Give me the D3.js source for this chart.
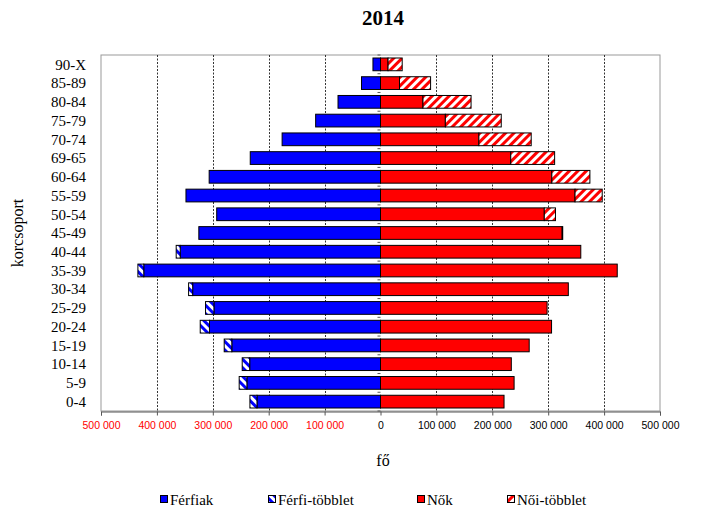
<!DOCTYPE html>
<html>
<head>
<meta charset="utf-8">
<script src="https://cdn.jsdelivr.net/npm/d3@7"></script>
<style>
  html, body { margin: 0; padding: 0; background: #fff; }
  svg { display: block; }
</style>
</head>
<body>
<svg id="chart" width="716" height="521"></svg>
<script>
// ---- data ----
const ageGroups = ["0-4","5-9","10-14","15-19","20-24","25-29","30-34","35-39","40-44","45-49",
                   "50-54","55-59","60-64","69-65","70-74","75-79","80-84","85-89","90-X"];
// common part (smaller of the two sexes), shown solid on both sides
const ferfiak      = [221000,239000,234000,266000,306000,298000,336000,423500,358300,325000,
                      293000,348000,306500,233000,176000,116000,76000,34000,13500];
const ferfiTobblet = [12600,13800,13400,13600,16500,15000,7300,10500,7200,0,
                      0,0,0,0,0,0,0,0,0];
const nok          = [221000,239000,234000,266000,306000,298000,336000,423500,358300,325000,
                      293000,348000,306500,233000,176000,116000,76000,34000,13500];
const noiTobblet   = [0,0,0,0,0,0,0,0,0,1000,
                      20000,48600,68100,78500,93600,100000,86000,55600,25300];
const xTicks = [-500000,-400000,-300000,-200000,-100000,0,100000,200000,300000,400000,500000];
const legendLabels = ["Férfiak","Férfi-többlet","Nők","Női-többlet"];

// ---- layout ----
const svg = d3.select("#chart");
const L = 101, R = 660, T = 55, B = 411;
const serif = "'Liberation Serif','Times New Roman',serif";
const sans = "'Liberation Sans',Arial,sans-serif";

const x = d3.scaleLinear().domain([-500000, 500000]).range([L, R]);
const y = d3.scaleBand().domain(ageGroups.slice().reverse()).range([T, B]).paddingInner(0.32).paddingOuter(0.16);

// patterns
const defs = svg.append("defs");
const pm = defs.append("pattern").attr("id","hatchM").attr("patternUnits","userSpaceOnUse")
  .attr("width",6).attr("height",6).attr("patternTransform","rotate(-45)");
pm.append("rect").attr("width",6).attr("height",6).attr("fill","#fff");
pm.append("rect").attr("width",3).attr("height",6).attr("fill","#0000ff");
const pf = defs.append("pattern").attr("id","hatchF").attr("patternUnits","userSpaceOnUse")
  .attr("width",6).attr("height",6).attr("patternTransform","rotate(45)");
pf.append("rect").attr("width",6).attr("height",6).attr("fill","#fff");
pf.append("rect").attr("width",3).attr("height",6).attr("fill","#ff0000");

// title
svg.append("text").attr("x", 383).attr("y", 25).attr("text-anchor","middle")
  .attr("font-family", serif).attr("font-weight","bold").attr("font-size", 21).text("2014");

// plot frame
svg.append("rect").attr("x", L).attr("y", T).attr("width", R - L).attr("height", B - T)
  .attr("fill","none").attr("stroke","#999").attr("stroke-width",1);

// gridlines
svg.append("g").selectAll("line")
  .data(xTicks.filter(d => d !== 0 && Math.abs(d) !== 500000))
  .join("line")
  .attr("x1", d => Math.round(x(d)) + 0.5).attr("x2", d => Math.round(x(d)) + 0.5)
  .attr("y1", T).attr("y2", B)
  .attr("stroke","#333").attr("stroke-width",1).attr("stroke-dasharray","2,1.5");

// bottom axis
const fmt = v => d3.format(",")(Math.abs(v)).replace(/,/g, "\u00a0");
const xAxis = svg.append("g").attr("transform", `translate(0,${B + 0.5})`)
  .call(d3.axisBottom(x).tickValues(xTicks).tickSize(4).tickPadding(6).tickFormat(fmt));
xAxis.select(".domain").attr("stroke","#555");
xAxis.selectAll(".tick line").attr("stroke","#555");
xAxis.selectAll(".tick text").attr("font-family", sans).attr("font-size", 10.5)
  .attr("fill", d => d < 0 ? "#ff0000" : "#000");

// bars
const bh = y.bandwidth();
const rows = ageGroups.map((g, i) => ({ g, i }));
const bars = svg.append("g").attr("stroke","#000").attr("stroke-width",1);
// male common
bars.selectAll(".m").data(rows).join("rect")
  .attr("x", d => x(-ferfiak[d.i])).attr("y", d => y(d.g))
  .attr("width", d => x(0) - x(-ferfiak[d.i])).attr("height", bh).attr("fill","#0000ff");
// male surplus
bars.selectAll(".ms").data(rows.filter(d => ferfiTobblet[d.i] > 0)).join("rect")
  .attr("x", d => x(-(ferfiak[d.i] + ferfiTobblet[d.i]))).attr("y", d => y(d.g))
  .attr("width", d => x(-ferfiak[d.i]) - x(-(ferfiak[d.i] + ferfiTobblet[d.i]))).attr("height", bh)
  .attr("fill","url(#hatchM)");
// female common
bars.selectAll(".f").data(rows).join("rect")
  .attr("x", x(0)).attr("y", d => y(d.g))
  .attr("width", d => x(nok[d.i]) - x(0)).attr("height", bh).attr("fill","#ff0000");
// female surplus
bars.selectAll(".fs").data(rows.filter(d => noiTobblet[d.i] > 0)).join("rect")
  .attr("x", d => x(nok[d.i])).attr("y", d => y(d.g))
  .attr("width", d => x(nok[d.i] + noiTobblet[d.i]) - x(nok[d.i])).attr("height", bh)
  .attr("fill","url(#hatchF)");

// category axis at zero (tick marks only)
const yAxis = svg.append("g").attr("transform", `translate(${x(0)},0)`);
const bounds = d3.range(ageGroups.length + 1).map(k => T + k * (B - T) / ageGroups.length);
yAxis.selectAll("line").data(bounds).join("line")
  .attr("x1", -3).attr("x2", 0).attr("y1", d => d).attr("y2", d => d)
  .attr("stroke","#555");

// category labels
svg.append("g").selectAll("text").data(ageGroups).join("text")
  .attr("x", 86).attr("y", d => y(d) + bh / 2).attr("dy","0.35em")
  .attr("text-anchor","end").attr("font-family", serif).attr("font-size", 15).text(d => d);

// axis titles
svg.append("text").attr("transform","translate(23,233) rotate(-90)").attr("text-anchor","middle")
  .attr("font-family", serif).attr("font-size", 16).text("korcsoport");
svg.append("text").attr("x", 383).attr("y", 466).attr("text-anchor","middle")
  .attr("font-family", serif).attr("font-size", 16).text("fő");

// legend
const legendX = [160, 268, 417, 507];
const legendFill = ["#0000ff","url(#hatchM)","#ff0000","url(#hatchF)"];
const lg = svg.append("g").selectAll("g").data(legendLabels).join("g")
  .attr("transform", (d, i) => `translate(${legendX[i]},500)`);
lg.append("rect").attr("x", 0.5).attr("y", -4.5).attr("width", 7).attr("height", 7)
  .attr("fill", (d, i) => legendFill[i]).attr("stroke","#000");
lg.append("text").attr("x", 10).attr("y", 0).attr("dy","0.35em")
  .attr("font-family", serif).attr("font-size", 15).text(d => d);
</script>
</body>
</html>
